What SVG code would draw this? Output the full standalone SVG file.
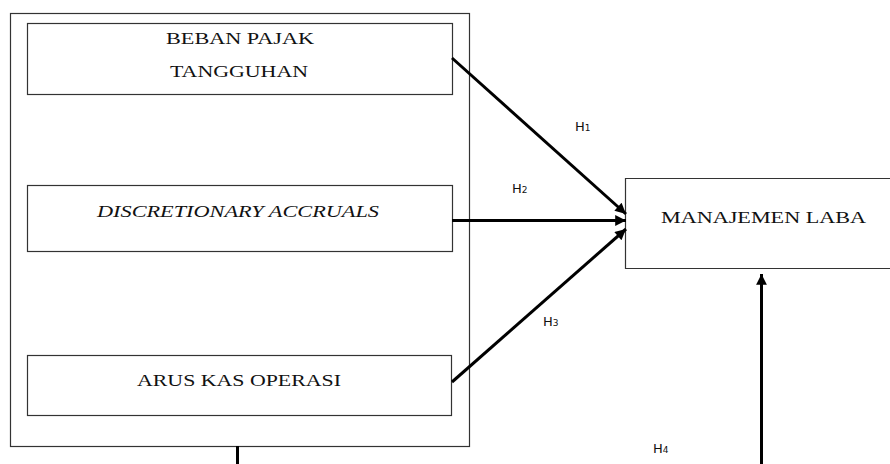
<svg xmlns="http://www.w3.org/2000/svg" width="890" height="464" viewBox="0 0 890 464">
<defs>
<marker id="ah" viewBox="0 0 10 10" refX="10" refY="5" markerWidth="4.3" markerHeight="3.6" orient="auto" markerUnits="strokeWidth">
<path d="M0,0 L10,5 L0,10 z" fill="#000"/>
</marker>
<style>
.box{fill:#fff;stroke:#333;stroke-width:1.2}
.t{font-family:"Liberation Serif","Times New Roman",serif;font-size:17px;fill:#111}
.h{font-family:"DejaVu Sans","Liberation Sans",sans-serif;font-size:13px;fill:#111}
.s{font-size:9px}
.c{stroke:#000;stroke-width:3;fill:none}
</style>
</defs>
<rect width="890" height="464" fill="#fff"/>
<g id="group-box">
<rect class="box" x="10.5" y="13.5" width="459" height="433"/>
</g>
<g id="beban">
<rect class="box" x="27.5" y="23.5" width="425" height="71"/>
<text class="t" x="166" y="44" textLength="148" lengthAdjust="spacingAndGlyphs">BEBAN PAJAK</text>
<text class="t" x="170" y="77" textLength="138" lengthAdjust="spacingAndGlyphs">TANGGUHAN</text>
</g>
<g id="discretionary">
<rect class="box" x="27.5" y="185.5" width="425" height="66"/>
<text class="t" x="97" y="217" font-style="italic" textLength="282" lengthAdjust="spacingAndGlyphs">DISCRETIONARY ACCRUALS</text>
</g>
<g id="arus">
<rect class="box" x="27.5" y="355.5" width="424" height="60"/>
<text class="t" x="137" y="386" textLength="204" lengthAdjust="spacingAndGlyphs">ARUS KAS OPERASI</text>
</g>
<g id="manajemen">
<path class="box" d="M895,178.5 H625.5 V268.5 H895"/>
<text class="t" x="661" y="223" textLength="205" lengthAdjust="spacingAndGlyphs">MANAJEMEN LABA</text>
</g>
<g id="connectors">
<line class="c" x1="452" y1="58" x2="626" y2="214" marker-end="url(#ah)"/>
<line class="c" x1="452" y1="220.5" x2="626" y2="220.5" marker-end="url(#ah)"/>
<line class="c" x1="452" y1="382" x2="626" y2="229" marker-end="url(#ah)"/>
<line class="c" x1="761.5" y1="464" x2="761.5" y2="274" marker-end="url(#ah)"/>
<line class="c" x1="237.5" y1="446" x2="237.5" y2="464"/>
<text class="h" x="575" y="131">H<tspan class="s">1</tspan></text>
<text class="h" x="512" y="193">H<tspan class="s">2</tspan></text>
<text class="h" x="543" y="326">H<tspan class="s">3</tspan></text>
<text class="h" x="653" y="453">H<tspan class="s">4</tspan></text>
</g>
</svg>
